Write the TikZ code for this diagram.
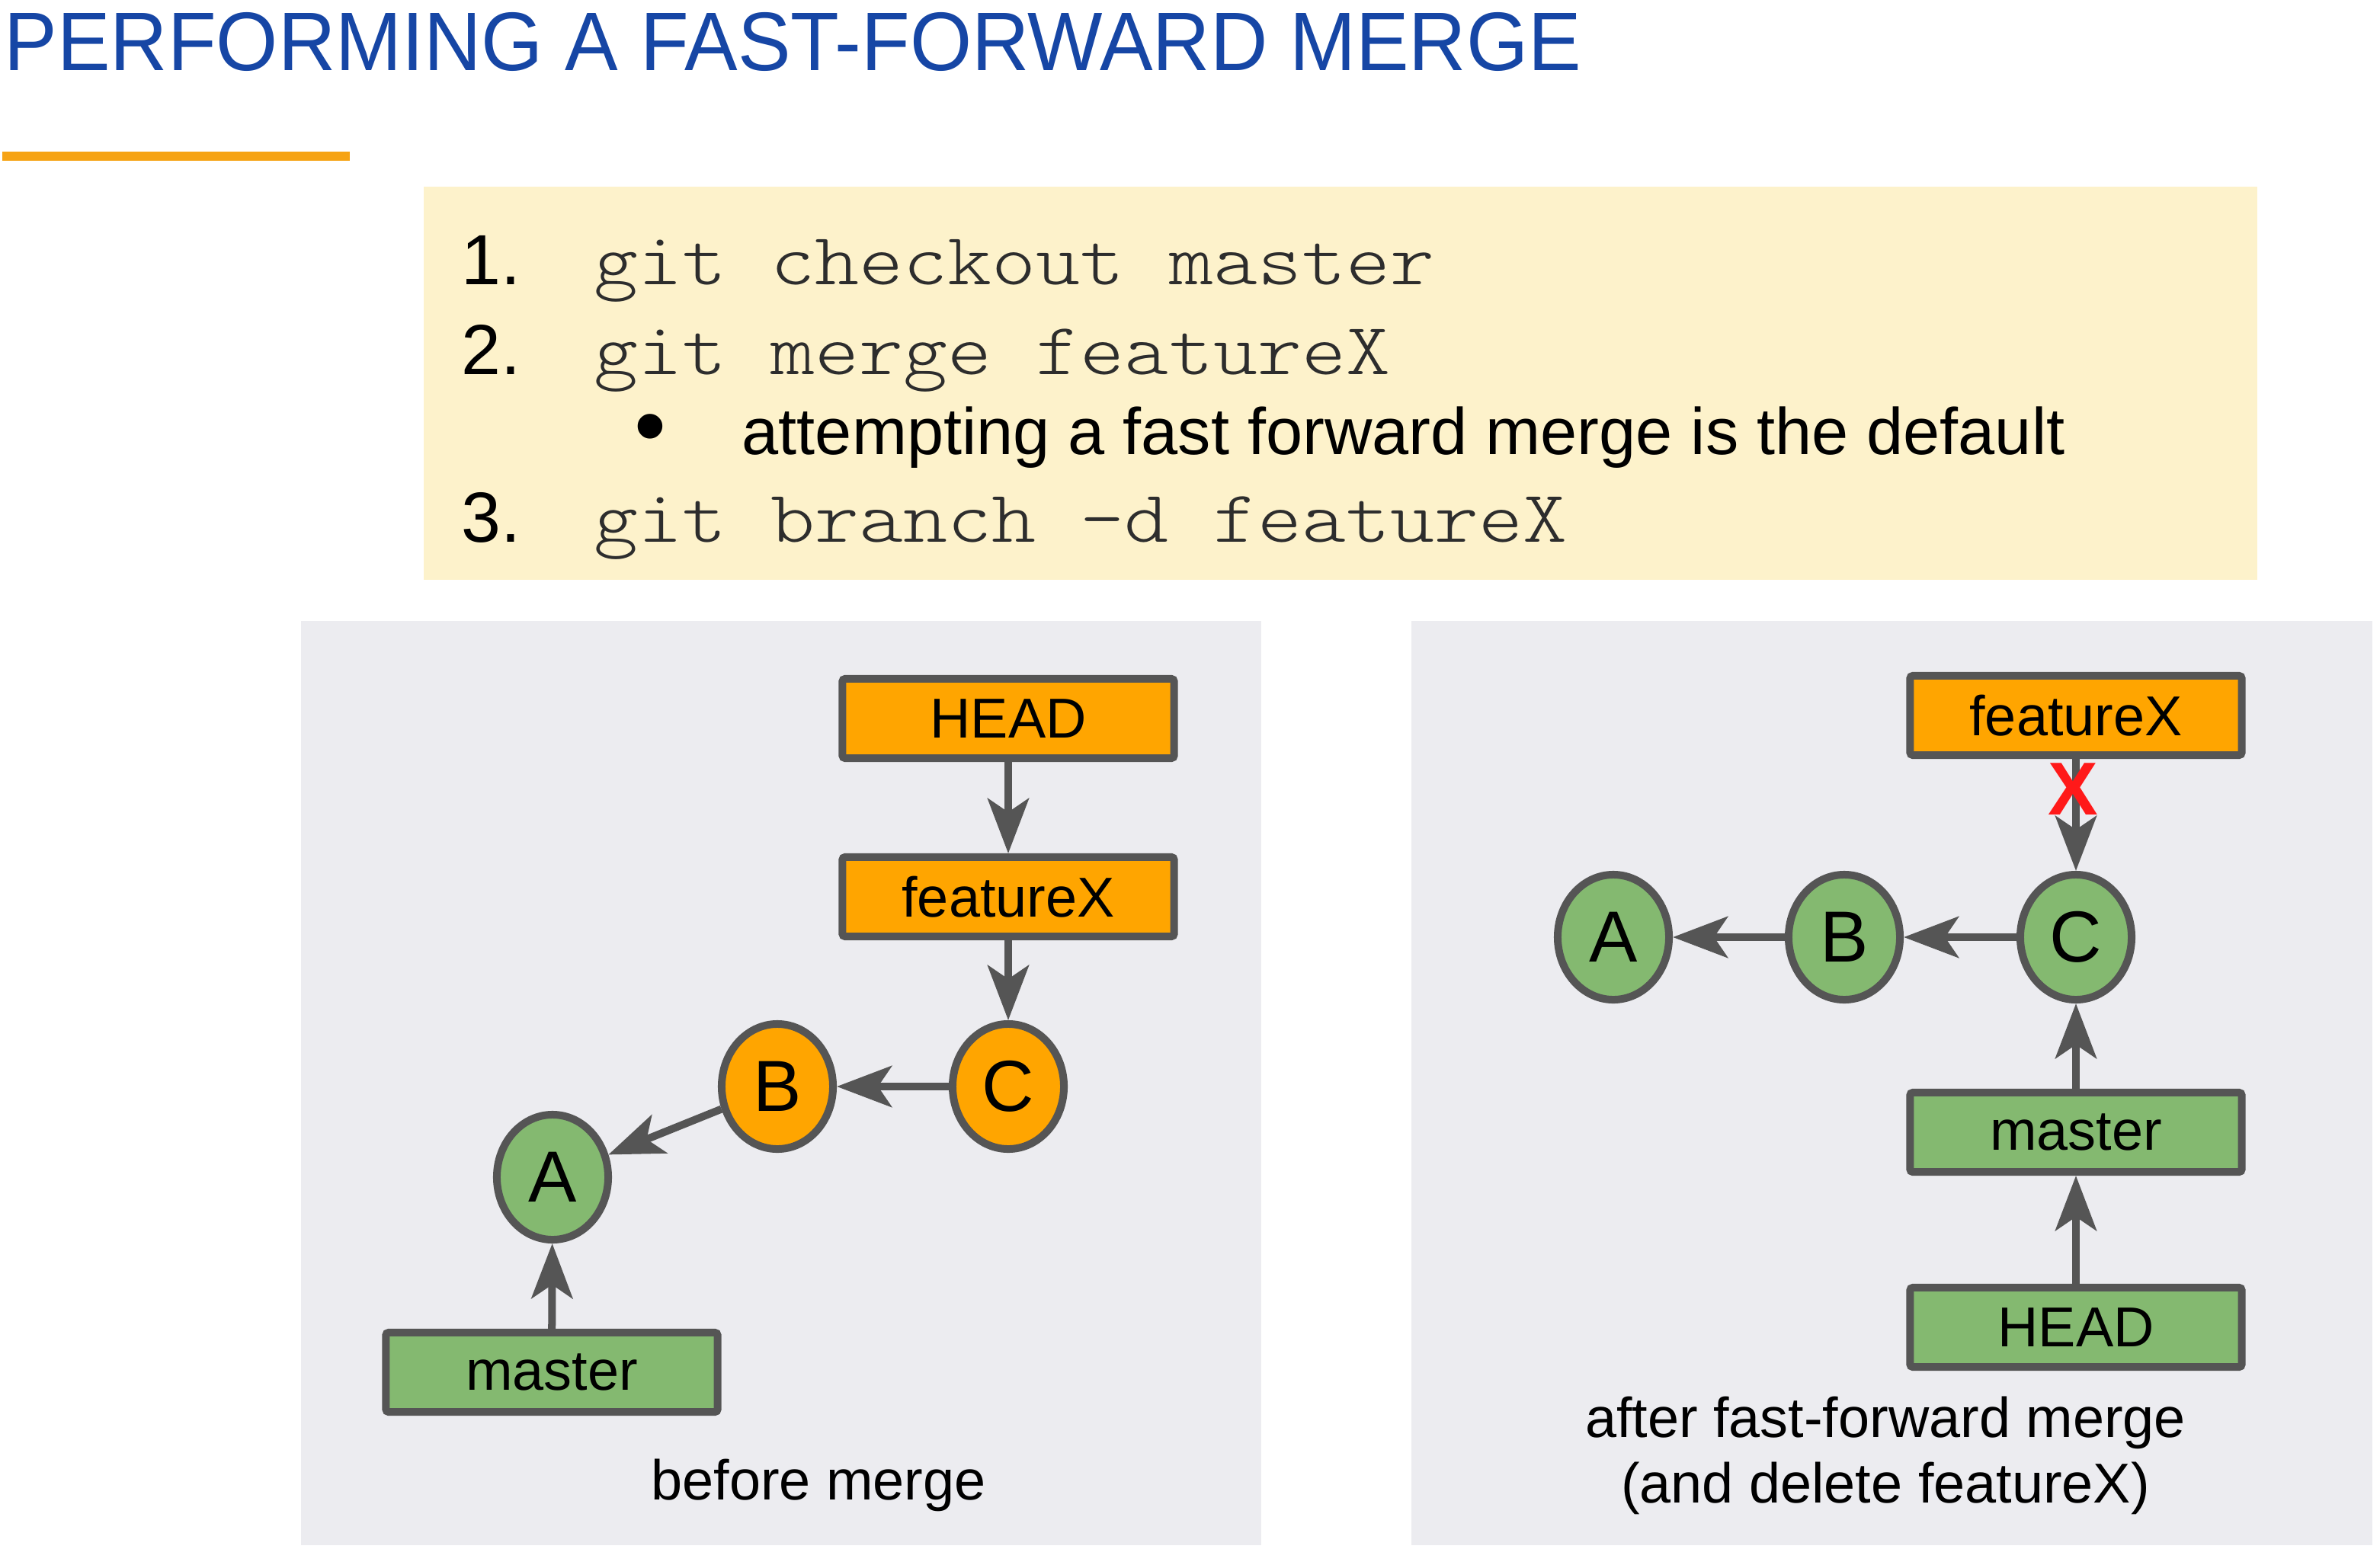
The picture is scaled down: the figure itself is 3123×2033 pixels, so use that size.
\documentclass[tikz,border=0pt]{standalone}
\usepackage{fontspec}
\setmainfont{Liberation Sans}
\newfontfamily\titlefont[FakeStretch=0.957]{Liberation Sans}
\newfontfamily\codefont[FakeStretch=1.143]{lmmonolt10-regular.otf}
\usetikzlibrary{arrows.meta,shapes.geometric}

\definecolor{titleblue}{RGB}{22,70,165}
\definecolor{rulegold}{RGB}{246,163,20}
\definecolor{notepad}{RGB}{253,242,203}
\definecolor{panelgray}{RGB}{236,236,240}
\definecolor{branchorange}{RGB}{255,165,0}
\definecolor{commitgreen}{RGB}{132,185,112}
\definecolor{edgegray}{RGB}{85,85,85}
\definecolor{codegray}{RGB}{45,45,45}
\definecolor{crossred}{RGB}{255,25,25}

\tikzset{
  ref/.style={rectangle, draw=edgegray, line width=0.1cm, rounded corners=1pt,
    minimum width=4.35cm, minimum height=1.04cm, inner sep=0pt,
    font=\fontsize{21pt}{25pt}\selectfont, text=black},
  orangeref/.style={ref, fill=branchorange},
  greenref/.style={ref, fill=commitgreen},
  commit/.style={ellipse, draw=edgegray, line width=0.1cm,
    minimum width=1.46cm, minimum height=1.64cm, inner sep=0pt,
    font=\fontsize{27pt}{30pt}\selectfont, text=black},
  orangecommit/.style={commit, fill=branchorange},
  greencommit/.style={commit, fill=commitgreen},
  link/.style={draw=edgegray, line width=0.1cm,
    -{Stealth[length=0.72cm, width=0.54cm, inset=0.18cm]}},
  panel/.style={fill=panelgray, draw=none},
  caption/.style={anchor=base, inner sep=0pt, text=black,
    font=\fontsize{21pt}{25pt}\selectfont},
  stepnum/.style={anchor=base west, inner sep=0pt, text=black,
    font=\fontsize{26.5pt}{30pt}\selectfont},
  command/.style={anchor=base west, inner sep=0pt, text=codegray,
    font=\codefont\fontsize{27.5pt}{32pt}\selectfont},
  note/.style={anchor=base west, inner sep=0pt, text=black,
    font=\fontsize{24.6pt}{29pt}\selectfont},
}

\begin{document}
\begin{tikzpicture}[x=0.01cm, y=-0.01cm]
  % page
  \fill[white] (0,0) rectangle (3123,2033);
  \useasboundingbox (0,0) rectangle (3123,2033);

  % heading and its rule
  \node[anchor=base west, inner sep=0pt, text=titleblue,
        font=\titlefont\fontsize{31pt}{36pt}\selectfont] (title) at (5,93)
        {PERFORMING A FAST-FORWARD MERGE};
  \draw[rulegold, line width=0.11cm] (3,205) -- (459,205);

  % command list
  \fill[notepad] (556,245) rectangle (2962,761);
  \node[stepnum] (n1) at (605,373) {1.};
  \node[command] (c1txt) at (779,373) {git checkout master};
  \node[stepnum] (n2) at (605,491) {2.};
  \node[command] (c2txt) at (779,491) {git merge featureX};
  \node[anchor=center, inner sep=0pt, font=\fontsize{34pt}{38pt}\selectfont] (dot) at (853,572) {•};
  \node[note] (hint) at (973,596) {attempting a fast forward merge is the default};
  \node[stepnum] (n3) at (605,711) {3.};
  \node[command] (c3txt) at (779,711) {git branch -d featureX};

  % panels
  \fill[panel] (395,815) rectangle (1655,2028);
  \fill[panel] (1852,815) rectangle (3113,2028);

  % before merge
  \node[orangeref] (head1) at (1323,943) {HEAD};
  \node[orangeref] (feat1) at (1323,1177) {featureX};
  \node[orangecommit] (cc1) at (1323,1426) {C};
  \node[orangecommit] (cb1) at (1020,1426) {B};
  \node[greencommit] (ca1) at (725,1545) {A};
  \node[greenref] (mast1) at (724,1801) {master};
  \draw[link] (head1) -- (feat1);
  \draw[link] (feat1) -- (cc1);
  \draw[link] (cc1) -- (cb1);
  \draw[link] (cb1) -- (ca1);
  \draw[link] (mast1) -- (ca1);
  \node[caption] (cap1) at (1074,1968) {before merge};

  % after fast-forward merge
  \node[orangeref] (feat2) at (2724,939) {featureX};
  \node[greencommit] (cc2) at (2724,1230) {C};
  \node[greencommit] (cb2) at (2420,1230) {B};
  \node[greencommit] (ca2) at (2117,1230) {A};
  \node[greenref] (mast2) at (2724,1486) {master};
  \node[greenref] (head2) at (2724,1742) {HEAD};
  \draw[link] (feat2) -- (cc2);
  \draw[link] (cc2) -- (cb2);
  \draw[link] (cb2) -- (ca2);
  \draw[link] (mast2) -- (cc2);
  \draw[link] (head2) -- (mast2);
  \node[inner sep=0pt, text=crossred, font=\bfseries\fontsize{28pt}{30pt}\selectfont]
        (cross) at (2720,1036) {X};
  \node[caption] (cap2a) at (2474,1886) {after fast-forward merge};
  \node[caption] (cap2b) at (2474,1972) {(and delete featureX)};
\end{tikzpicture}
\end{document}
